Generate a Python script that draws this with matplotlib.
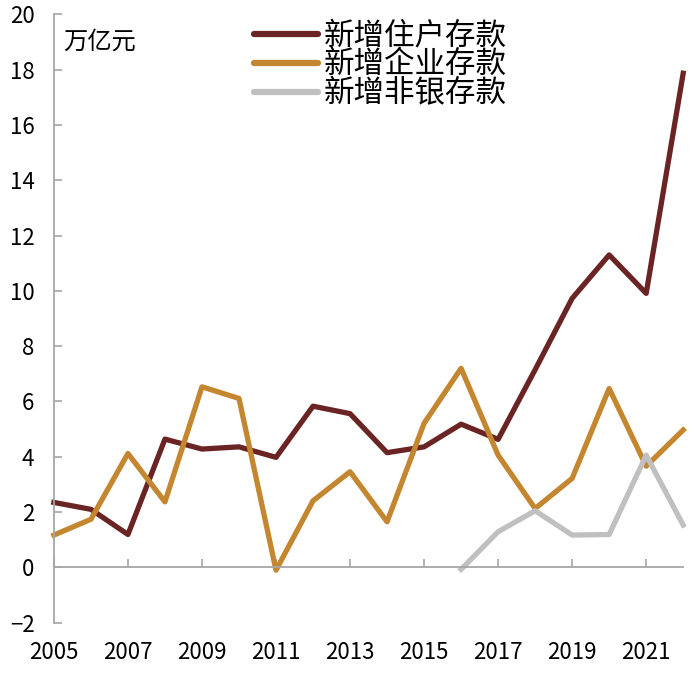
import matplotlib.pyplot as plt
import numpy as np

plt.rcParams['font.family'] = ['Noto Sans CJK SC', 'DejaVu Sans']

# 新增存款，万亿元
years = np.arange(2005, 2023)
household = [2.35, 2.10, 1.19, 4.64, 4.28, 4.36, 3.98, 5.83, 5.56, 4.15,
             4.36, 5.18, 4.63, 7.15, 9.73, 11.30, 9.91, 17.87]
enterprise = [1.17, 1.74, 4.12, 2.37, 6.53, 6.11, -0.10, 2.41, 3.46, 1.65,
              5.21, 7.20, 4.06, 2.13, 3.22, 6.47, 3.66, 4.97]
nonbank_years = np.arange(2016, 2023)
nonbank = [-0.07, 1.29, 2.05, 1.17, 1.19, 4.06, 1.53]

labels = ['新增住户存款', '新增企业存款', '新增非银存款']
colors = ['#6b2424', '#c4862f', '#c0c0c0']

fig = plt.figure(figsize=(7, 6.73), dpi=100)
ax = fig.add_axes([0.077, 0.0747, 0.899, 0.904])

lw = 3.8
ax.plot(years, household, color=colors[0], lw=lw, label=labels[0], clip_on=False)
ax.plot(years, enterprise, color=colors[1], lw=lw, label=labels[1], clip_on=False)
ax.plot(nonbank_years, nonbank, color=colors[2], lw=lw, label=labels[2], clip_on=False)

ax.set_xlim(2005, 2022)
ax.set_ylim(-2, 20)
ax.set_yticks(np.arange(-2, 21, 2))
ax.set_xticks(np.arange(2005, 2022, 2))

axis_gray = '#a6a6a6'
for s in ['top', 'right']:
    ax.spines[s].set_visible(False)
ax.spines['left'].set_color(axis_gray)
ax.spines['left'].set_linewidth(1.3)
ax.spines['bottom'].set_position(('data', 0))
ax.spines['bottom'].set_color(axis_gray)
ax.spines['bottom'].set_linewidth(1.3)

ax.tick_params(axis='y', direction='in', length=6, width=1.2, color=axis_gray,
               labelsize=16, pad=14)
ax.tick_params(axis='x', direction='in', length=6, width=1.2, color=axis_gray,
               labelsize=16, pad=53)

ax.text(0.014, 0.955, '万亿元', transform=ax.transAxes, fontsize=17.5,
        ha='left', va='center')

leg = ax.legend(loc='upper left', bbox_to_anchor=(0.298, 1.010), frameon=False,
                fontsize=22, handlelength=2.1, handletextpad=0.2,
                labelspacing=-0.07, borderaxespad=0)
for line in leg.get_lines():
    line.set_linewidth(4.5)
    line.set_solid_capstyle('round')

plt.savefig('out.png', dpi=100)
plt.close()
